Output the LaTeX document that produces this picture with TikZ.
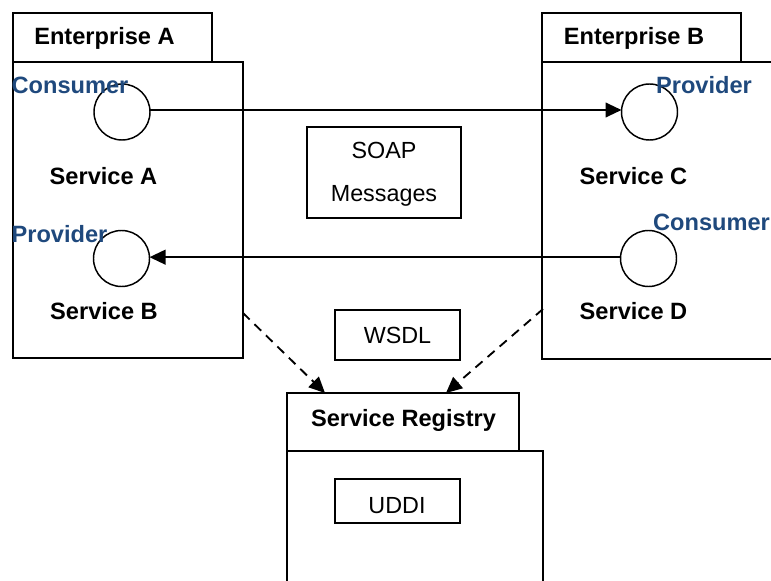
\documentclass[tikz,border=0pt]{standalone}
\usepackage{fontspec}
\setmainfont{Liberation Sans}
\usetikzlibrary{arrows.meta}
\definecolor{roleblue}{RGB}{31,73,125}
\newdimen\pxu \pxu=0.75pt
\begin{document}
\begin{tikzpicture}[x=0.75pt,y=-0.75pt,
  every node/.style={inner sep=0pt,outer sep=0pt},
  frame/.style={draw,line width=1.4pt,anchor=north west},
  msgbox/.style={draw,line width=1.1pt,anchor=north west},
  port/.style={draw,circle,line width=1.1pt,minimum size=56*\pxu},
  lbl/.style={anchor=base,font=\fontsize{17.7}{20}\selectfont\bfseries},
  role/.style={lbl,text=roleblue},
  txt/.style={anchor=base,font=\fontsize{17.5}{20}\selectfont},
  link/.style={line width=1.5pt,-{Triangle[length=12pt,width=11pt]}},
  reg/.style={link,line width=1.4pt,dash pattern=on 7pt off 5pt}]
\useasboundingbox (0,0) rectangle (771,581);
\clip (0,0) rectangle (771,581);

% Enterprise A
\node[frame,minimum width=199*\pxu,minimum height=49*\pxu] (tabA) at (13,13) {};
\node[frame,minimum width=230*\pxu,minimum height=296*\pxu] (entA) at (13,62) {};
\node[lbl] (nameA) at (104.5,44.5) {Enterprise A};

% Enterprise B
\node[frame,minimum width=199*\pxu,minimum height=49*\pxu] (tabB) at (542,13) {};
\node[frame,minimum width=245*\pxu,minimum height=297*\pxu] (entB) at (542,62) {};
\node[lbl] (nameB) at (634,44.5) {Enterprise B};

% Service Registry
\node[frame,minimum width=232*\pxu,minimum height=58*\pxu] (tabR) at (287,393) {};
\node[frame,minimum width=256*\pxu,minimum height=150*\pxu] (regR) at (287,451) {};
\node[lbl] (nameR) at (403.5,426.5) {Service Registry};

% Boxes between the enterprises
\node[msgbox,minimum width=154*\pxu,minimum height=91*\pxu] (soap) at (307,127) {};
\node[txt] (soapA) at (384,158.5) {SOAP};
\node[txt] (soapB) at (384,201.5) {Messages};
\node[msgbox,minimum width=125*\pxu,minimum height=50*\pxu] (wsdl) at (335,310) {};
\node[txt] (wsdlT) at (397.5,343.5) {WSDL};
\node[msgbox,minimum width=125*\pxu,minimum height=44*\pxu] (uddi) at (335,479) {};
\node[txt] (uddiT) at (397,513.5) {UDDI};

% Service ports
\node[port] (svcA) at (122,112) {};
\node[port] (svcC) at (649.5,112) {};
\node[port] (svcB) at (121.5,258.5) {};
\node[port] (svcD) at (648.5,258.5) {};

% Service names and roles
\node[lbl] (labA) at (103.5,184.5) {Service A};
\node[lbl] (labC) at (633.5,184.5) {Service C};
\node[lbl] (labB) at (104,319.5) {Service B};
\node[lbl] (labD) at (633.5,319.5) {Service D};
\node[role] (roleA) at (70,93.5) {Consumer};
\node[role] (roleC) at (704,93.5) {Provider};
\node[role] (roleB) at (59.5,242.5) {Provider};
\node[role] (roleD) at (711.5,230.5) {Consumer};

% Message flows
\draw[link] ([yshift=1.5pt]svcA.east) -- ([yshift=1.5pt]svcC.west);
\draw[link] ([yshift=1pt]svcD.west) -- ([yshift=1pt]svcB.east);

% Publishing to the registry
\coordinate (pubA) at (243,313);
\coordinate (pubB) at (543,309);
\coordinate (inA) at (325,393);
\coordinate (inB) at (446,393);
\draw[reg] (pubA) -- (inA);
\draw[reg] (pubB) -- (inB);
\end{tikzpicture}
\end{document}
